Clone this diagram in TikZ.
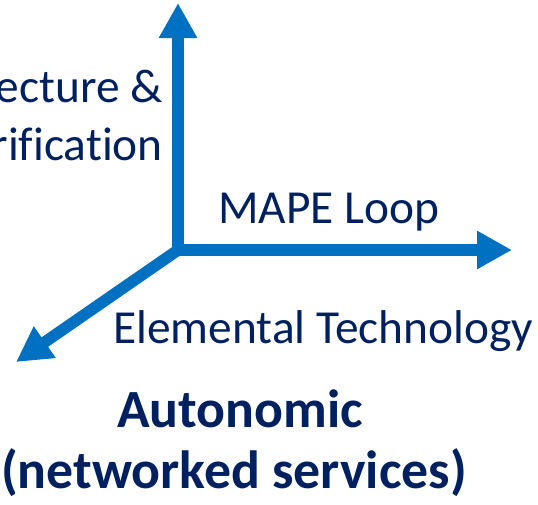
\documentclass[tikz,border=0pt]{standalone}
\usepackage{fontspec}
\setmainfont[Ligatures=NoCommon]{Carlito}
\usetikzlibrary{arrows.meta}
\definecolor{axisblue}{HTML}{0070C0}
\definecolor{labelnavy}{HTML}{002060}
\begin{document}
\begin{tikzpicture}[x=1pt,y=-1pt,
  axis/.style={draw=axisblue,line width=11.5pt,
    -{Triangle[width=36pt,length=35pt]},fill=axisblue},
  lbl/.style={inner sep=0pt,text=labelnavy,
    font=\fontsize{47.4}{56}\selectfont},
  title/.style={lbl,font=\fontsize{53.8}{60}\bfseries\selectfont}]
\useasboundingbox (0,0) rectangle (538,504);
\clip (0,0) rectangle (538,504);
% axes meeting at the origin
\coordinate (o) at (178,250);
\coordinate (obot) at (178,255.5);
\coordinate (oleft) at (172.5,250);
\coordinate (up) at (178,3);
\coordinate (right) at (512,250);
\coordinate (dl) at (16,362);
\draw[axis] (obot) -- (up);
\draw[axis] (oleft) -- (right);
\draw[axis] (o) -- (dl);
% axis labels
\node[lbl,anchor=base east] (arch) at (163,102) {ecture \&};
\node[lbl,anchor=base east] (verif) at (163,160) {rification};
\node[lbl,anchor=base west] (mape) at (218,223) {MAPE Loop};
\node[lbl,anchor=base west] (elem) at (113,343) {Elemental Technology};
% title
\node[title,anchor=base] (auto) at (240,427) {Autonomic};
\node[title,anchor=base] (netw) at (234,488) {(networked services)};
\end{tikzpicture}
\end{document}
